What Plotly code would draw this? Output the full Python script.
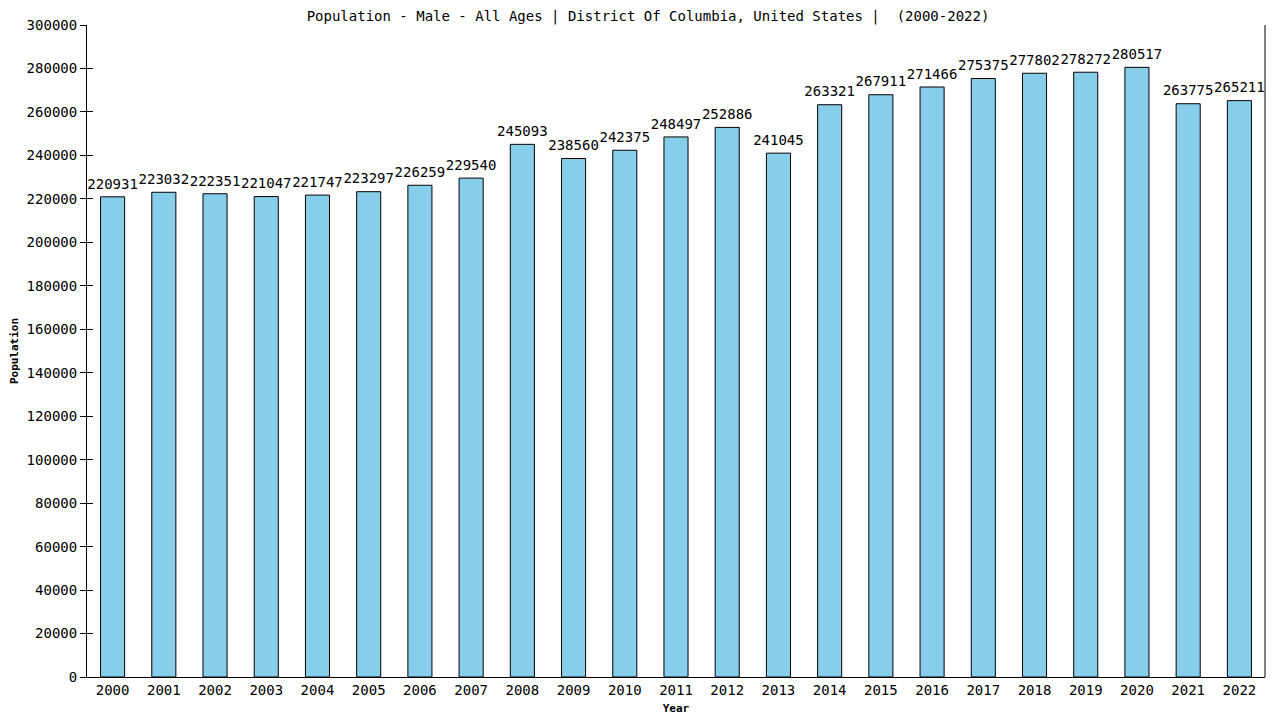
import plotly.graph_objects as go

years = [str(y) for y in range(2000, 2023)]
population = [220931, 223032, 222351, 221047, 221747, 223297, 226259, 229540,
              245093, 238560, 242375, 248497, 252886, 241045, 263321, 267911,
              271466, 275375, 277802, 278272, 280517, 263775, 265211]
y_ticks = list(range(0, 300001, 20000))

FONT = "DejaVu Sans Mono"

fig = go.Figure()
fig.add_trace(go.Bar(
    x=years, y=population,
    width=0.47,
    marker=dict(color="#87CEEB", line=dict(color="black", width=1)),
    hoverinfo="x+y",
))
fig.add_trace(go.Scatter(
    x=years, y=population,
    mode="markers+text",
    marker=dict(size=6, opacity=0),
    text=[str(v) for v in population],
    textposition="top center",
    textfont=dict(family=FONT, size=14, color="black"),
    cliponaxis=False,
    hoverinfo="skip",
))

fig.update_layout(
    width=1280, height=720,
    plot_bgcolor="white", paper_bgcolor="white",
    margin=dict(l=79, r=23, t=17, b=51),
    title=dict(text="Population - Male - All Ages | District Of Columbia, United States |  (2000-2022)",
               x=0.5, xanchor="center", yref="container", y=0.996, yanchor="top",
               pad=dict(t=0, b=0, l=0, r=0),
               font=dict(family=FONT, size=14, color="black")),
    showlegend=False,
)
fig.update_xaxes(
    type="category", range=[-0.5, 22.5], automargin=False,
    showline=True, linecolor="black", linewidth=1,
    ticks="", showgrid=False,
    tickfont=dict(family=FONT, size=14, color="black"),
    title=dict(text="<b>Year</b>", font=dict(family=FONT, size=11, color="black"), standoff=7),
)
fig.update_yaxes(
    range=[0, 300000], automargin=False,
    tickvals=y_ticks, ticktext=[str(v) for v in y_ticks],
    showline=True, linecolor="black", linewidth=1,
    ticks="outside", ticklen=6, tickcolor="black", tickwidth=1,
    showgrid=False, zeroline=False,
    tickfont=dict(family=FONT, size=14, color="black"),
    title=dict(text="<b>Population</b>", font=dict(family=FONT, size=11, color="black"), standoff=5),
)
# inner half of cross ticks
fig.update_layout(yaxis2=dict(overlaying="y", matches="y", side="left", anchor="x",
                              automargin=False,
                              range=[0, 300000], tickvals=y_ticks, ticks="inside", ticklen=6,
                              tickcolor="black", showticklabels=False, showgrid=False,
                              zeroline=False, showline=False))
fig.add_trace(go.Scatter(x=[years[0]], y=[0], yaxis="y2", mode="markers",
                         marker=dict(opacity=0), hoverinfo="skip", showlegend=False))
fig.add_shape(type="line", xref="paper", yref="paper", x0=1, x1=1, y0=0, y1=1,
              line=dict(color="black", width=1))

fig.write_html("out.html")
